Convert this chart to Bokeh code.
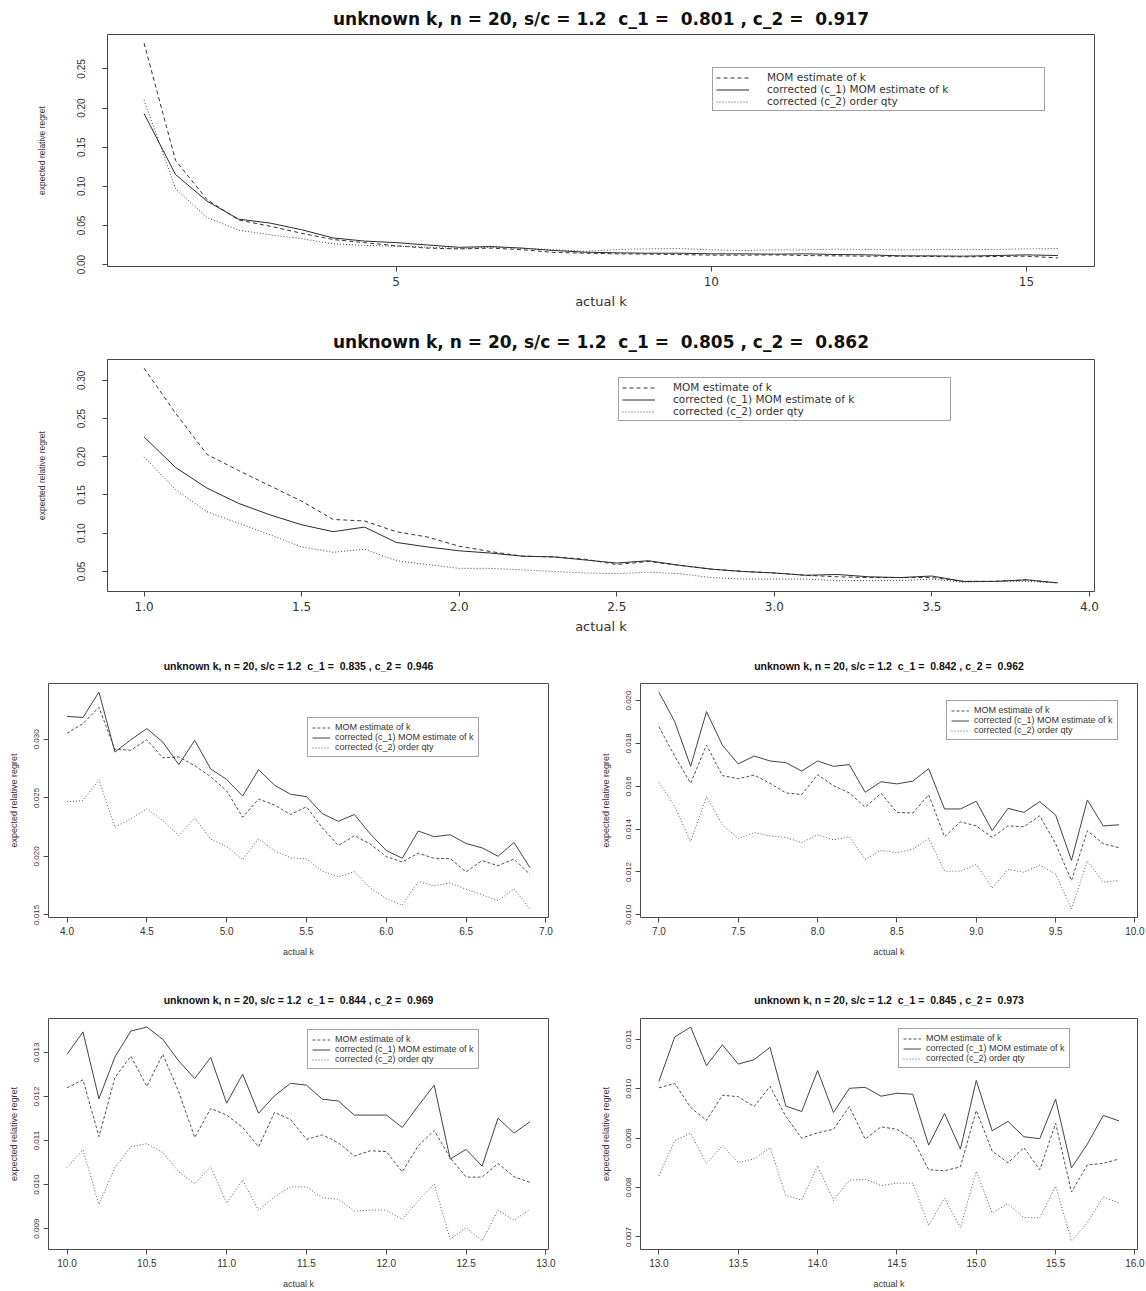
from bokeh.plotting import figure
from bokeh.layouts import column, row
from bokeh.models import Range1d, FixedTicker, PrintfTickFormatter, Legend, LegendItem
from bokeh.embed import file_html
from bokeh.resources import INLINE

# ---------------- data ----------------
SERIES_LABELS = ["MOM estimate of k",
                 "corrected (c_1) MOM estimate of k",
                 "corrected (c_2) order qty"]

# panel A: coarse grid, k = 1 .. 15.5
k_a = [1.0, 1.5, 2.0, 2.5, 3.0, 3.5, 4.0, 4.5, 5.0, 5.5, 6.0, 6.5, 7.0, 7.5, 8.0,
       8.5, 9.0, 9.5, 10.0, 10.5, 11.0, 11.5, 12.0, 12.5, 13.0, 13.5, 14.0, 14.5, 15.0, 15.5]
mom_a = [0.283, 0.133, 0.083, 0.057, 0.049, 0.040, 0.032, 0.028, 0.024, 0.021, 0.020, 0.021,
         0.019, 0.0155, 0.0145, 0.0137, 0.0133, 0.0128, 0.0120, 0.0120, 0.0124, 0.0115, 0.0111,
         0.0107, 0.0107, 0.0103, 0.0098, 0.0103, 0.0107, 0.0085]
c1_a = [0.193, 0.115, 0.081, 0.058, 0.053, 0.0445, 0.034, 0.030, 0.028, 0.025, 0.022, 0.023,
        0.021, 0.018, 0.0158, 0.0150, 0.0145, 0.0145, 0.0137, 0.0137, 0.0133, 0.0137, 0.0128,
        0.0124, 0.0111, 0.0111, 0.0107, 0.0115, 0.0124, 0.0115]
c2_a = [0.210, 0.097, 0.060, 0.044, 0.038, 0.033, 0.0265, 0.0244, 0.0235, 0.0222, 0.0205, 0.0222,
        0.0209, 0.019, 0.0171, 0.0192, 0.0201, 0.0205, 0.0188, 0.0179, 0.0188, 0.0188, 0.0197,
        0.0192, 0.0188, 0.0192, 0.0192, 0.0192, 0.0201, 0.0205]

# panel B: k = 1.0 .. 3.9
k_b = [1.0, 1.1, 1.2, 1.3, 1.4, 1.5, 1.6, 1.7, 1.8, 1.9, 2.0, 2.1, 2.2, 2.3, 2.4,
       2.5, 2.6, 2.7, 2.8, 2.9, 3.0, 3.1, 3.2, 3.3, 3.4, 3.5, 3.6, 3.7, 3.8, 3.9]
mom_b = [0.316, 0.257, 0.203, 0.182, 0.162, 0.142, 0.118, 0.116, 0.102, 0.095, 0.083, 0.076,
         0.070, 0.069, 0.066, 0.059, 0.063, 0.058, 0.053, 0.050, 0.048, 0.045, 0.043, 0.042,
         0.042, 0.042, 0.037, 0.037, 0.039, 0.035]
c1_b = [0.226, 0.186, 0.159, 0.139, 0.124, 0.111, 0.102, 0.108, 0.088, 0.082, 0.077, 0.074,
        0.070, 0.069, 0.065, 0.061, 0.064, 0.058, 0.053, 0.050, 0.048, 0.045, 0.046, 0.043,
        0.042, 0.044, 0.037, 0.037, 0.039, 0.035]
c2_b = [0.200, 0.157, 0.128, 0.113, 0.098, 0.082, 0.075, 0.079, 0.064, 0.059, 0.054, 0.054,
        0.052, 0.050, 0.048, 0.047, 0.049, 0.047, 0.042, 0.040, 0.040, 0.040, 0.038, 0.038,
        0.038, 0.040, 0.036, 0.037, 0.037, 0.035]

# panel C: k = 4.0 .. 6.9
k_c = [4.0, 4.1, 4.2, 4.3, 4.4, 4.5, 4.6, 4.7, 4.8, 4.9, 5.0, 5.1, 5.2, 5.3, 5.4,
       5.5, 5.6, 5.7, 5.8, 5.9, 6.0, 6.1, 6.2, 6.3, 6.4, 6.5, 6.6, 6.7, 6.8, 6.9]
mom_c = [0.03052, 0.03135, 0.03274, 0.02914, 0.02908, 0.02997, 0.02842, 0.02850, 0.02775, 0.02680,
         0.02560, 0.02335, 0.02490, 0.02439, 0.02358, 0.02424, 0.02243, 0.02093, 0.02177, 0.02105,
         0.01998, 0.01952, 0.02027, 0.01984, 0.01981, 0.01868, 0.01964, 0.01920, 0.01978, 0.01846]
c1_c = [0.03196, 0.03187, 0.03403, 0.02891, 0.02997, 0.03092, 0.02977, 0.02784, 0.02991, 0.02747,
        0.02657, 0.02516, 0.02741, 0.02608, 0.02531, 0.02511, 0.02364, 0.02300, 0.02358, 0.02191,
        0.02050, 0.01984, 0.02217, 0.02168, 0.02185, 0.02110, 0.02073, 0.02001, 0.02119, 0.01903]
c2_c = [0.02467, 0.02476, 0.02655, 0.02249, 0.02323, 0.02407, 0.02306, 0.02177, 0.02329, 0.02148,
        0.02084, 0.01972, 0.02151, 0.02047, 0.01989, 0.01978, 0.01874, 0.01825, 0.01869, 0.01730,
        0.01638, 0.01584, 0.01785, 0.01748, 0.01774, 0.01719, 0.01673, 0.01622, 0.01722, 0.01552]

# panel D: k = 7.0 .. 9.9
k_d = [7.0, 7.1, 7.2, 7.3, 7.4, 7.5, 7.6, 7.7, 7.8, 7.9, 8.0, 8.1, 8.2, 8.3, 8.4,
       8.5, 8.6, 8.7, 8.8, 8.9, 9.0, 9.1, 9.2, 9.3, 9.4, 9.5, 9.6, 9.7, 9.8, 9.9]
mom_d = [0.01878, 0.01740, 0.01614, 0.01792, 0.01650, 0.01635, 0.01652, 0.01614, 0.01569, 0.01561,
         0.01654, 0.01603, 0.01569, 0.01502, 0.01567, 0.01478, 0.01475, 0.01560, 0.01364, 0.01434,
         0.01415, 0.01361, 0.01415, 0.01411, 0.01462, 0.01332, 0.01160, 0.01392, 0.01332, 0.01313]
c1_d = [0.02039, 0.01901, 0.01693, 0.01948, 0.01792, 0.01704, 0.01741, 0.01718, 0.01710, 0.01671,
        0.01718, 0.01693, 0.01701, 0.01572, 0.01621, 0.01611, 0.01624, 0.01682, 0.01494, 0.01494,
        0.01530, 0.01393, 0.01497, 0.01478, 0.01528, 0.01466, 0.01254, 0.01536, 0.01415, 0.01420]
c2_d = [0.01618, 0.01505, 0.01342, 0.01552, 0.01420, 0.01356, 0.01384, 0.01368, 0.01361, 0.01337,
        0.01373, 0.01350, 0.01364, 0.01259, 0.01301, 0.01290, 0.01306, 0.01356, 0.01204, 0.01204,
        0.01235, 0.01125, 0.01212, 0.01199, 0.01232, 0.01191, 0.01028, 0.01251, 0.01152, 0.01160]

# panel E: k = 10.0 .. 12.9
k_e = [10.0, 10.1, 10.2, 10.3, 10.4, 10.5, 10.6, 10.7, 10.8, 10.9, 11.0, 11.1, 11.2, 11.3, 11.4,
       11.5, 11.6, 11.7, 11.8, 11.9, 12.0, 12.1, 12.2, 12.3, 12.4, 12.5, 12.6, 12.7, 12.8, 12.9]
mom_e = [0.01220, 0.01238, 0.01109, 0.01243, 0.01292, 0.01223, 0.01296, 0.01211, 0.01107, 0.01173,
         0.01158, 0.01130, 0.01086, 0.01164, 0.01148, 0.01103, 0.01113, 0.01095, 0.01065, 0.01077,
         0.01075, 0.01029, 0.01088, 0.01123, 0.01061, 0.01017, 0.01017, 0.01048, 0.01018, 0.01005]
c1_e = [0.01296, 0.01347, 0.01195, 0.01290, 0.01349, 0.01358, 0.01330, 0.01281, 0.01241, 0.01289,
        0.01185, 0.01251, 0.01162, 0.01202, 0.01230, 0.01226, 0.01194, 0.01190, 0.01158, 0.01158,
        0.01158, 0.01130, 0.01179, 0.01226, 0.01058, 0.01080, 0.01042, 0.01151, 0.01117, 0.01143]
c2_e = [0.01039, 0.01079, 0.00955, 0.01039, 0.01086, 0.01093, 0.01073, 0.01029, 0.01002, 0.01041,
        0.00958, 0.01010, 0.00942, 0.00972, 0.00995, 0.00995, 0.00970, 0.00967, 0.00940, 0.00942,
        0.00942, 0.00921, 0.00963, 0.01002, 0.00876, 0.00902, 0.00872, 0.00942, 0.00919, 0.00944]

# panel F: k = 13.0 .. 15.9
k_f = [13.0, 13.1, 13.2, 13.3, 13.4, 13.5, 13.6, 13.7, 13.8, 13.9, 14.0, 14.1, 14.2, 14.3, 14.4,
       14.5, 14.6, 14.7, 14.8, 14.9, 15.0, 15.1, 15.2, 15.3, 15.4, 15.5, 15.6, 15.7, 15.8, 15.9]
mom_f = [0.01002, 0.01011, 0.00962, 0.00936, 0.00987, 0.00984, 0.00964, 0.01005, 0.00944, 0.00900,
         0.00911, 0.00918, 0.00964, 0.00898, 0.00923, 0.00918, 0.00898, 0.00836, 0.00834, 0.00842,
         0.00956, 0.00874, 0.00850, 0.00881, 0.00836, 0.00930, 0.00791, 0.00846, 0.00849, 0.00858]
c1_f = [0.01015, 0.01105, 0.01125, 0.01047, 0.01089, 0.01050, 0.01059, 0.01084, 0.00965, 0.00954,
        0.01037, 0.00952, 0.01001, 0.01003, 0.00985, 0.00991, 0.00989, 0.00886, 0.00950, 0.00878,
        0.01017, 0.00915, 0.00934, 0.00903, 0.00899, 0.00979, 0.00840, 0.00888, 0.00946, 0.00935]
c2_f = [0.00824, 0.00895, 0.00910, 0.00849, 0.00885, 0.00851, 0.00858, 0.00881, 0.00784, 0.00775,
        0.00844, 0.00774, 0.00815, 0.00817, 0.00804, 0.00809, 0.00809, 0.00723, 0.00779, 0.00719,
        0.00833, 0.00749, 0.00767, 0.00739, 0.00739, 0.00803, 0.00692, 0.00729, 0.00781, 0.00769]

# titles (the corrections used in each run); the doubled gaps use a no-break space
title_a = "unknown k, n = 20, s/c = 1.2 \u00a0c_1 = \u00a00.801 , c_2 = \u00a00.917"
title_b = "unknown k, n = 20, s/c = 1.2 \u00a0c_1 = \u00a00.805 , c_2 = \u00a00.862"
title_c = "unknown k, n = 20, s/c = 1.2 \u00a0c_1 = \u00a00.835 , c_2 = \u00a00.946"
title_d = "unknown k, n = 20, s/c = 1.2 \u00a0c_1 = \u00a00.842 , c_2 = \u00a00.962"
title_e = "unknown k, n = 20, s/c = 1.2 \u00a0c_1 = \u00a00.844 , c_2 = \u00a00.969"
title_f = "unknown k, n = 20, s/c = 1.2 \u00a0c_1 = \u00a00.845 , c_2 = \u00a00.973"

# axis ticks
xt_a = [5, 10, 15]
yt_a = [0.00, 0.05, 0.10, 0.15, 0.20, 0.25]
xt_b = [1.0, 1.5, 2.0, 2.5, 3.0, 3.5, 4.0]
yt_b = [0.05, 0.10, 0.15, 0.20, 0.25, 0.30]
xt_c = [4.0, 4.5, 5.0, 5.5, 6.0, 6.5, 7.0]
yt_c = [0.015, 0.020, 0.025, 0.030]
xt_d = [7.0, 7.5, 8.0, 8.5, 9.0, 9.5, 10.0]
yt_d = [0.010, 0.012, 0.014, 0.016, 0.018, 0.020]
xt_e = [10.0, 10.5, 11.0, 11.5, 12.0, 12.5, 13.0]
yt_e = [0.009, 0.010, 0.011, 0.012, 0.013]
xt_f = [13.0, 13.5, 14.0, 14.5, 15.0, 15.5, 16.0]
yt_f = [0.007, 0.008, 0.009, 0.010, 0.011]

# ---------------- styling ----------------
INK = "#333333"

WIDE = dict(title_font="DejaVu Sans", title_size="17px",
            xtick_font="DejaVu Sans", xtick_size="12px", xtick_standoff=5,
            xlab_font="DejaVu Sans", xlab_size="13px", xlab_standoff=5,
            ytick_font="Liberation Sans", ytick_size="10px", ytick_standoff=17,
            ylab_font="Liberation Sans", ylab_size="8.5px", ylab_standoff=28,
            leg_font="DejaVu Sans", leg_size="10.5px", glyph_w=33, standoff=18,
            label_w=274, pad=3, dash="4 3",
            frame="#444444", solid="#2a2a2a", dashed="#333333", dotted="#444444")
NARROW = dict(title_font="Liberation Sans", title_size="10.5px",
              xtick_font="Liberation Sans", xtick_size="10px", xtick_standoff=4,
              xlab_font="Liberation Sans", xlab_size="9px", xlab_standoff=9,
              ytick_font="Liberation Sans", ytick_size="8px", ytick_standoff=4,
              ylab_font="Liberation Sans", ylab_size="9px", ylab_standoff=13,
              leg_font="Liberation Sans", leg_size="9px", glyph_w=18, standoff=5,
              label_w=20, pad=4, dash="3 2",
              frame="#4a4a4a", solid="#444444", dashed="#505050", dotted="#5a5a5a")


def panel(title, k, mom, cor1, cor2, xticks, xfmt, yticks, yfmt,
          width, height, borders, title_gap, legend_xy, st):
    xlo, xhi = min(k), max(k)
    xpad = 0.04 * (xhi - xlo)
    allv = mom + cor1 + cor2
    ylo, yhi = min(allv), max(allv)
    ypad = 0.04 * (yhi - ylo)
    left, right, top, bottom = borders
    p = figure(width=width, height=height,
               x_range=Range1d(xlo - xpad, xhi + xpad),
               y_range=Range1d(ylo - ypad, yhi + ypad),
               output_backend="svg", toolbar_location=None, title=title,
               x_axis_label="actual k", y_axis_label="expected relative regret",
               min_border_left=left, min_border_right=right,
               min_border_top=top, min_border_bottom=bottom)
    p.grid.visible = False
    p.background_fill_color = "white"
    p.border_fill_color = "white"
    p.outline_line_color = st["frame"]
    p.outline_line_width = 1

    t = p.title
    t.align = "center"
    t.text_font = st["title_font"]
    t.text_font_size = st["title_size"]
    t.text_font_style = "bold"
    t.text_color = "#111111"
    t.standoff = title_gap

    for ax in (p.xaxis[0], p.yaxis[0]):
        ax.axis_line_color = None
        ax.major_tick_line_color = st["frame"]
        ax.major_tick_out = 5
        ax.major_tick_in = 0
        ax.minor_tick_line_color = None
        ax.major_label_text_color = INK
        ax.axis_label_text_color = INK
        ax.axis_label_text_font_style = "normal"

    xa = p.xaxis[0]
    xa.ticker = FixedTicker(ticks=xticks)
    xa.formatter = PrintfTickFormatter(format=xfmt)
    xa.major_label_text_font = st["xtick_font"]
    xa.major_label_text_font_size = st["xtick_size"]
    xa.major_label_standoff = st["xtick_standoff"]
    xa.axis_label_text_font = st["xlab_font"]
    xa.axis_label_text_font_size = st["xlab_size"]
    xa.axis_label_standoff = st["xlab_standoff"]

    ya = p.yaxis[0]
    ya.ticker = FixedTicker(ticks=yticks)
    ya.formatter = PrintfTickFormatter(format=yfmt)
    ya.major_label_orientation = "parallel"
    ya.major_label_text_font = st["ytick_font"]
    ya.major_label_text_font_size = st["ytick_size"]
    ya.major_label_standoff = st["ytick_standoff"]
    ya.axis_label_text_font = st["ylab_font"]
    ya.axis_label_text_font_size = st["ylab_size"]
    ya.axis_label_standoff = st["ylab_standoff"]

    r_mom = p.line(k, mom, line_color=st["dashed"], line_width=1, line_dash=st["dash"])
    r_c1 = p.line(k, cor1, line_color=st["solid"], line_width=1)
    r_c2 = p.line(k, cor2, line_color=st["dotted"], line_width=1, line_dash="1 2")

    leg = Legend(items=[LegendItem(label=SERIES_LABELS[0], renderers=[r_mom]),
                        LegendItem(label=SERIES_LABELS[1], renderers=[r_c1]),
                        LegendItem(label=SERIES_LABELS[2], renderers=[r_c2])],
                 location=legend_xy, orientation="vertical",
                 border_line_color=st["frame"], border_line_width=1,
                 background_fill_color="white", background_fill_alpha=1.0,
                 label_text_font=st["leg_font"], label_text_font_size=st["leg_size"],
                 label_text_color=INK, glyph_width=st["glyph_w"], glyph_height=9,
                 label_height=9, label_width=st["label_w"], label_standoff=st["standoff"],
                 spacing=0, padding=st["pad"], margin=0)
    p.add_layout(leg)
    return p


p_a = panel(title_a, k_a, mom_a, c1_a, c2_a, xt_a, "%d", yt_a, "%.2f",
            1146, 320, (107, 52, 34, 54), 12, (605, 155), WIDE)
p_b = panel(title_b, k_b, mom_b, c1_b, c2_b, xt_b, "%.1f", yt_b, "%.2f",
            1146, 320, (107, 52, 39, 49), 16, (511, 170), WIDE)
p_c = panel(title_c, k_c, mom_c, c1_c, c2_c, xt_c, "%.1f", yt_c, "%.3f",
            573, 325, (48, 25, 43, 48), 24, (259, 160), NARROW)
p_d = panel(title_d, k_d, mom_d, c1_d, c2_d, xt_d, "%.1f", yt_d, "%.3f",
            573, 325, (67, 9, 43, 48), 24, (306, 177), NARROW)
p_e = panel(title_e, k_e, mom_e, c1_e, c2_e, xt_e, "%.1f", yt_e, "%.3f",
            573, 326, (48, 25, 53, 42), 25, (259, 180), NARROW)
p_f = panel(title_f, k_f, mom_f, c1_f, c2_f, xt_f, "%.1f", yt_f, "%.3f",
            573, 326, (67, 9, 53, 42), 25, (258, 181), NARROW)

page = column(p_a, p_b, row(p_c, p_d), row(p_e, p_f))

with open("out.html", "w") as fh:
    fh.write(file_html(page, INLINE))
